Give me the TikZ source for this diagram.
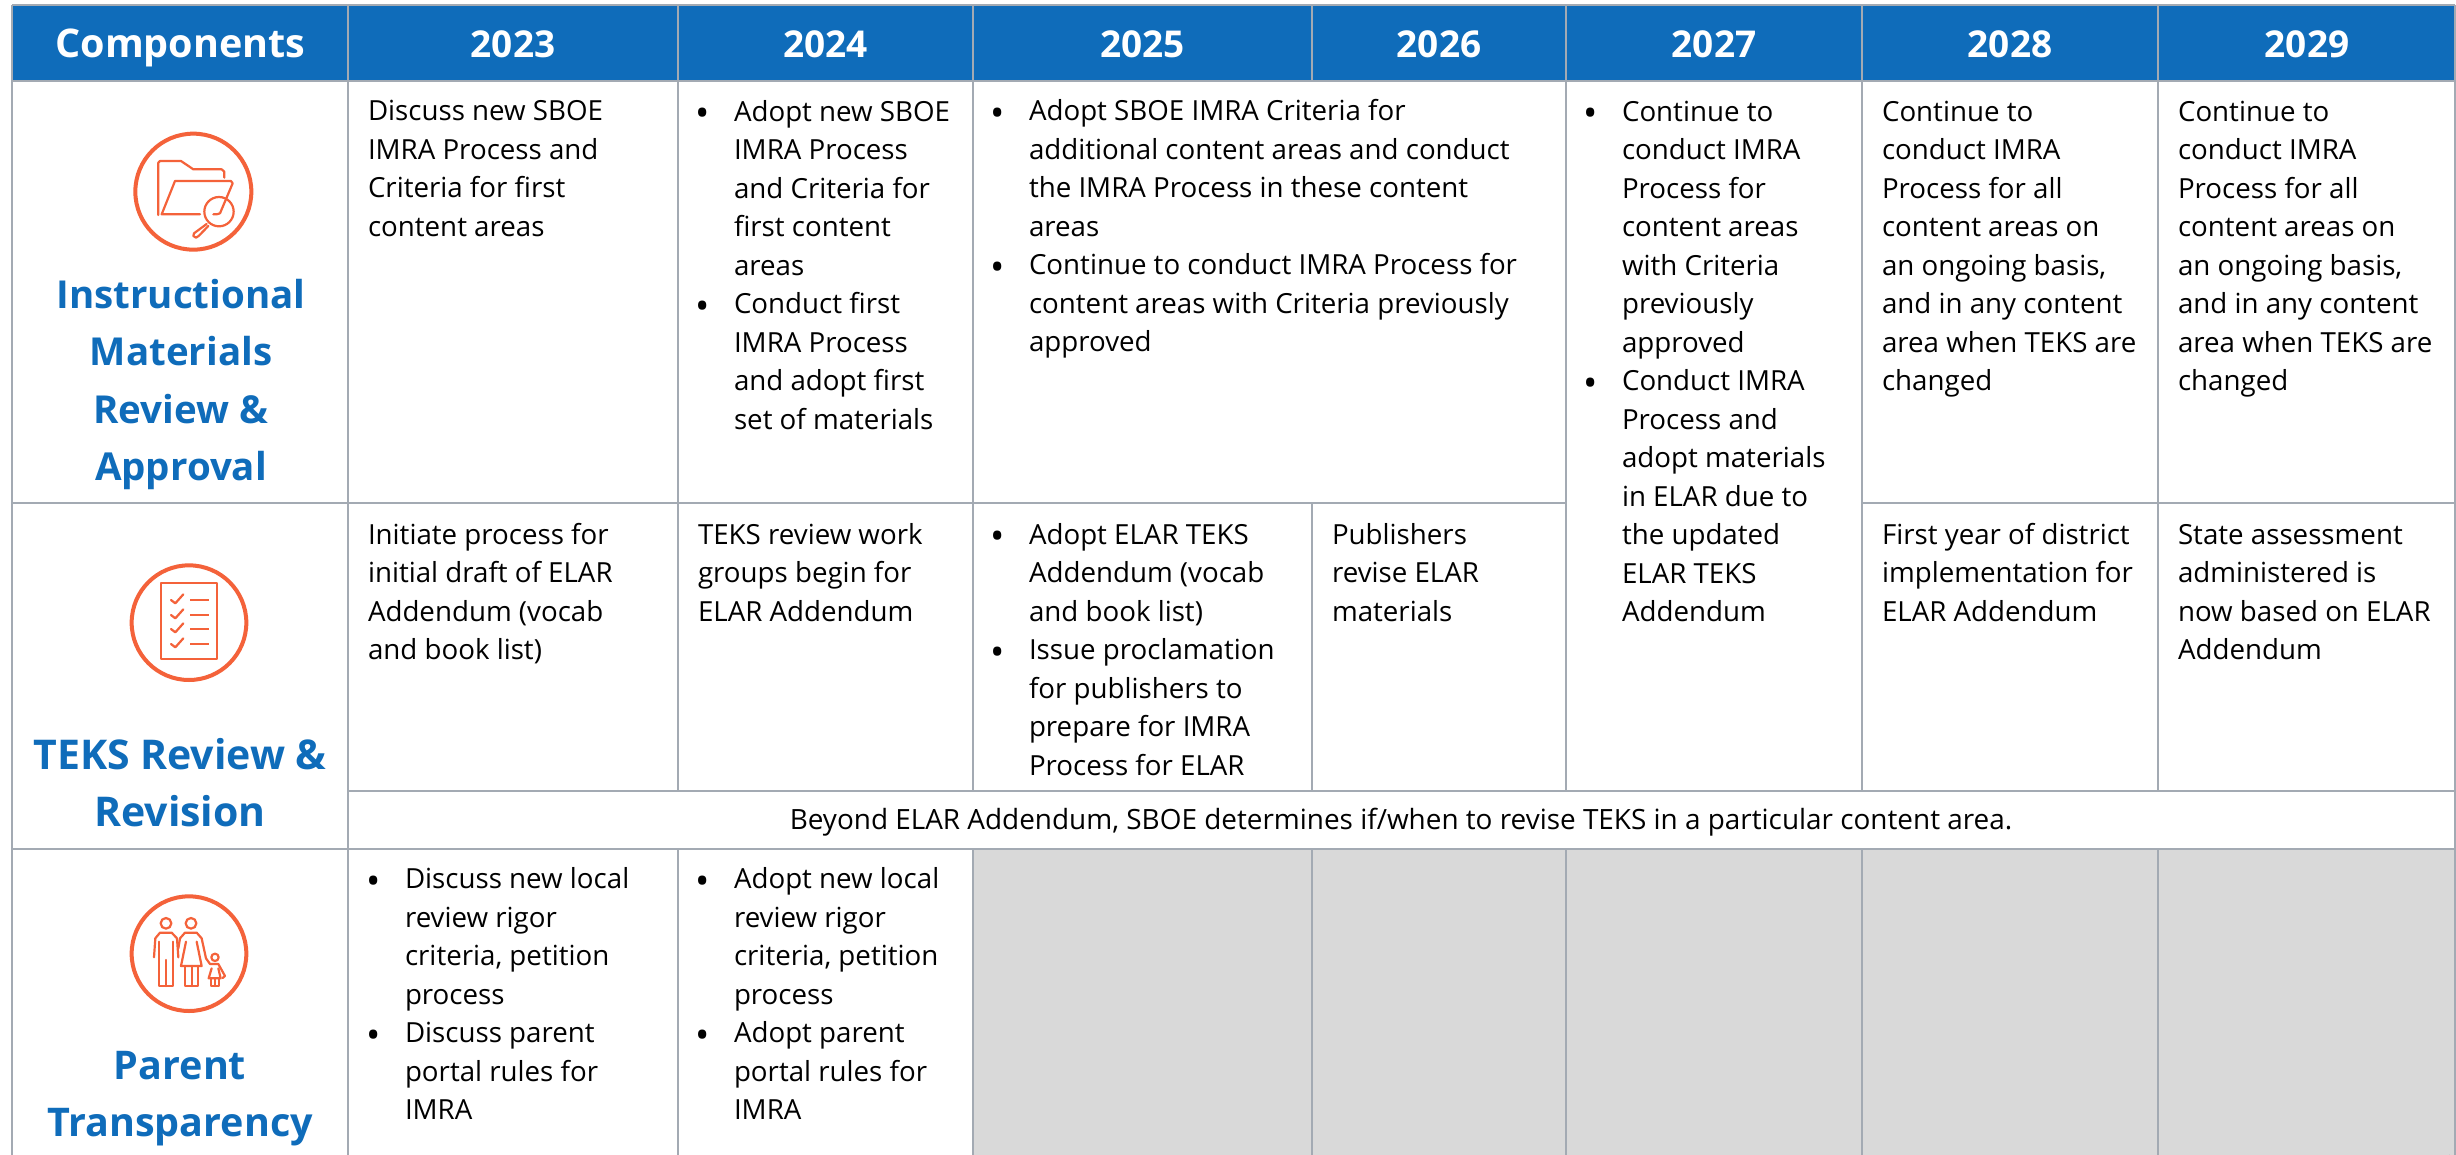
\documentclass[tikz,border=0pt]{standalone}
\usepackage{fontspec}
\setmainfont{Open Sans}
\definecolor{hdr}{HTML}{0F6CBA}
\definecolor{gridc}{HTML}{A3AAB3}
\definecolor{org}{HTML}{F4623A}
\definecolor{greybg}{HTML}{D9D9D9}
\tikzset{
  x=1pt,y=-1pt,
  gridline/.style={draw=gridc,line width=2.6pt},
  body/.style={inner sep=0pt,outer sep=0pt,anchor=north west,align=left,text=black,font=\fontsize{27.7}{38.5}\selectfont},
  headtxt/.style={inner sep=0pt,anchor=base,text=white,font=\fontsize{37}{44}\selectfont\bfseries},
  comp/.style={inner sep=0pt,anchor=north,align=center,text=hdr,font=\fontsize{#1}{57.5}\selectfont\bfseries},
  ring/.style={draw=org,line width=4pt},
  thin/.style={draw=org,line width=2.2pt,line join=round,line cap=round}
}
\newcommand{\fl}{\rule{0pt}{24pt}}
\newcommand{\bul}{\llap{\smash{\raisebox{-5.5pt}{\fontsize{38}{38.5}\selectfont •}}\hspace{24pt}}}
% name, x, baseline y, text
\newcommand{\cellt}[4]{\node[body] (#1) at (#2,#3-24) {\fl #4};}
\begin{document}
\begin{tikzpicture}
\useasboundingbox (0,0) rectangle (2456,1155);
\fill[white] (0,0) rectangle (2456,1155);
\fill[hdr] (12,5) rectangle (2455,81);
\fill[greybg] (973,849) rectangle (2455,1155);
% grid
\draw[gridline] (12,5) -- (2455,5);
\draw[gridline] (12,81) -- (2455,81);
\draw[gridline] (12,503) -- (1566,503) (1862,503) -- (2455,503);
\draw[gridline] (348,791) -- (2455,791);
\draw[gridline] (12,849) -- (2455,849);
\draw[gridline] (12,5) -- (12,1155) (348,5) -- (348,1155) (2455,5) -- (2455,1155);
\foreach \c in {678,973,1566,1862,2158}{\draw[gridline] (\c,5) -- (\c,791) (\c,849) -- (\c,1155);}
\draw[gridline] (1312,5) -- (1312,81) (1312,503) -- (1312,791) (1312,849) -- (1312,1155);
\draw[draw=gridc!80!black,line width=1.5pt] (2449,1155) arc[start angle=180,end angle=100,radius=5];
% header
\node[headtxt,font=\fontsize{39.5}{44}\selectfont\bfseries] (hc) at (180.5,58) {Components};
\node[headtxt] (h23) at (513,58) {2023};
\node[headtxt] (h24) at (825.5,58) {2024};
\node[headtxt] (h25) at (1142.5,58) {2025};
\node[headtxt] (h26) at (1439,58) {2026};
\node[headtxt] (h27) at (1714,58) {2027};
\node[headtxt] (h28) at (2010,58) {2028};
\node[headtxt] (h29) at (2307,58) {2029};
% components
\node[comp=38.5] (c1) at (181,269) {\rule{0pt}{39pt}Instructional\\Materials\\Review \&\\Approval};
\node[comp=41] (c2) at (180,730) {\rule{0pt}{39pt}TEKS Review \&\\Revision};
\node[comp=39.5] (c3) at (180,1040) {\rule{0pt}{39pt}Parent\\Transparency};
% row 1
\cellt{a23}{368}{121}{Discuss new SBOE\\IMRA Process and\\Criteria for first\\content areas}
\cellt{a24}{734}{121}{\bul Adopt new SBOE\\IMRA Process\\and Criteria for\\first content\\areas\\\bul Conduct first\\IMRA Process\\and adopt first\\set of materials}
\cellt{a25}{1029}{121}{\bul Adopt SBOE IMRA Criteria for\\additional content areas and conduct\\the IMRA Process in these content\\areas\\\bul Continue to conduct IMRA Process for\\content areas with Criteria previously\\approved}
\cellt{a27}{1622}{121}{\bul Continue to\\conduct IMRA\\Process for\\content areas\\with Criteria\\previously\\approved\\\bul Conduct IMRA\\Process and\\adopt materials\\in ELAR due to\\the updated\\ELAR TEKS\\Addendum}
\cellt{a28}{1882}{121}{Continue to\\conduct IMRA\\Process for all\\content areas on\\an ongoing basis,\\and in any content\\area when TEKS are\\changed}
\cellt{a29}{2178}{121}{Continue to\\conduct IMRA\\Process for all\\content areas on\\an ongoing basis,\\and in any content\\area when TEKS are\\changed}
% row 2
\cellt{b23}{368}{544}{Initiate process for\\initial draft of ELAR\\Addendum (vocab\\and book list)}
\cellt{b24}{698}{544}{TEKS review work\\groups begin for\\ELAR Addendum}
\cellt{b25}{1029}{544}{\bul Adopt ELAR TEKS\\Addendum (vocab\\and book list)\\\bul Issue proclamation\\for publishers to\\prepare for IMRA\\Process for ELAR}
\cellt{b26}{1332}{544}{Publishers\\revise ELAR\\materials}
\cellt{b28}{1882}{544}{First year of district\\implementation for\\ELAR Addendum}
\cellt{b29}{2178}{544}{State assessment\\administered is\\now based on ELAR\\Addendum}
\node[inner sep=0pt,anchor=base,text=black,font=\fontsize{27.9}{38.5}\selectfont] (span) at (1401,829) {Beyond ELAR Addendum, SBOE determines if/when to revise TEKS in a particular content area.};
% row 3
\cellt{d23}{405}{888.5}{\bul Discuss new local\\review rigor\\criteria, petition\\process\\\bul Discuss parent\\portal rules for\\IMRA}
\cellt{d24}{734}{888.5}{\bul Adopt new local\\review rigor\\criteria, petition\\process\\\bul Adopt parent\\portal rules for\\IMRA}
% icon 1: folder
\begin{scope}[shift={(100,110)},x=1/3*1pt,y=-1/3*1pt]
\draw[ring] (280,245) circle[radius=174];
\draw[thin] (175,315) -- (175,158) -- (180,153) -- (243,153) -- (280,178) -- (365,178) -- (373,185) -- (373,203);
\draw[thin] (300,313) -- (185,313) -- (225,213) -- (393,213) -- (398,220) -- (360,310) -- (350,313) -- (340,313);
\draw[thin] (357,305) circle[radius=44];
\draw[thin] (320,342) -- (282,370) -- (280,378) -- (288,383) -- (296,378) -- (325,348);
\end{scope}
% icon 2: checklist
\begin{scope}[shift={(100,550)},x=1/3*1pt,y=-1/3*1pt]
\draw[ring] (267,218) circle[radius=172];
\draw[thin] (183,100) rectangle (352,327);
\foreach \yy in {150,195,237,282}{
  \draw[thin,line width=2.2pt] (213,\yy) -- (226,\yy+10) -- (250,\yy-17);
  \draw[thin,line width=2.2pt,line cap=butt] (270,\yy) -- (327,\yy);
}
\end{scope}
% icon 3: family
\begin{scope}[shift={(100,840)},x=1/3*1pt,y=-1/3*1pt]
\draw[ring] (267,341) circle[radius=172];
\draw[thin] (198,250) circle[radius=16];
\draw[thin] (162,352) -- (166,295) -- (180,278) -- (215,278) -- (231,295) -- (235,352);
\draw[thin] (178,305) -- (178,438) -- (218,438) -- (218,305) (198,360) -- (198,438);
\draw[thin] (273,250) circle[radius=16];
\draw[thin] (235,325) -- (240,295) -- (255,278) -- (290,278) -- (305,295) -- (318,355);
\draw[thin] (258,305) -- (243,378) -- (305,378) -- (290,305);
\draw[thin] (255,378) -- (255,438) -- (295,438) -- (295,378) (275,378) -- (275,438);
\draw[thin] (345,352) circle[radius=11];
\draw[thin] (318,355) -- (330,372) -- (355,372) -- (375,408) -- (368,414);
\draw[thin] (335,385) -- (326,415) -- (362,415) -- (355,385);
\draw[thin] (332,415) -- (332,438) -- (358,438) -- (358,415) (345,415) -- (345,438);
\end{scope}
\end{tikzpicture}
\end{document}
